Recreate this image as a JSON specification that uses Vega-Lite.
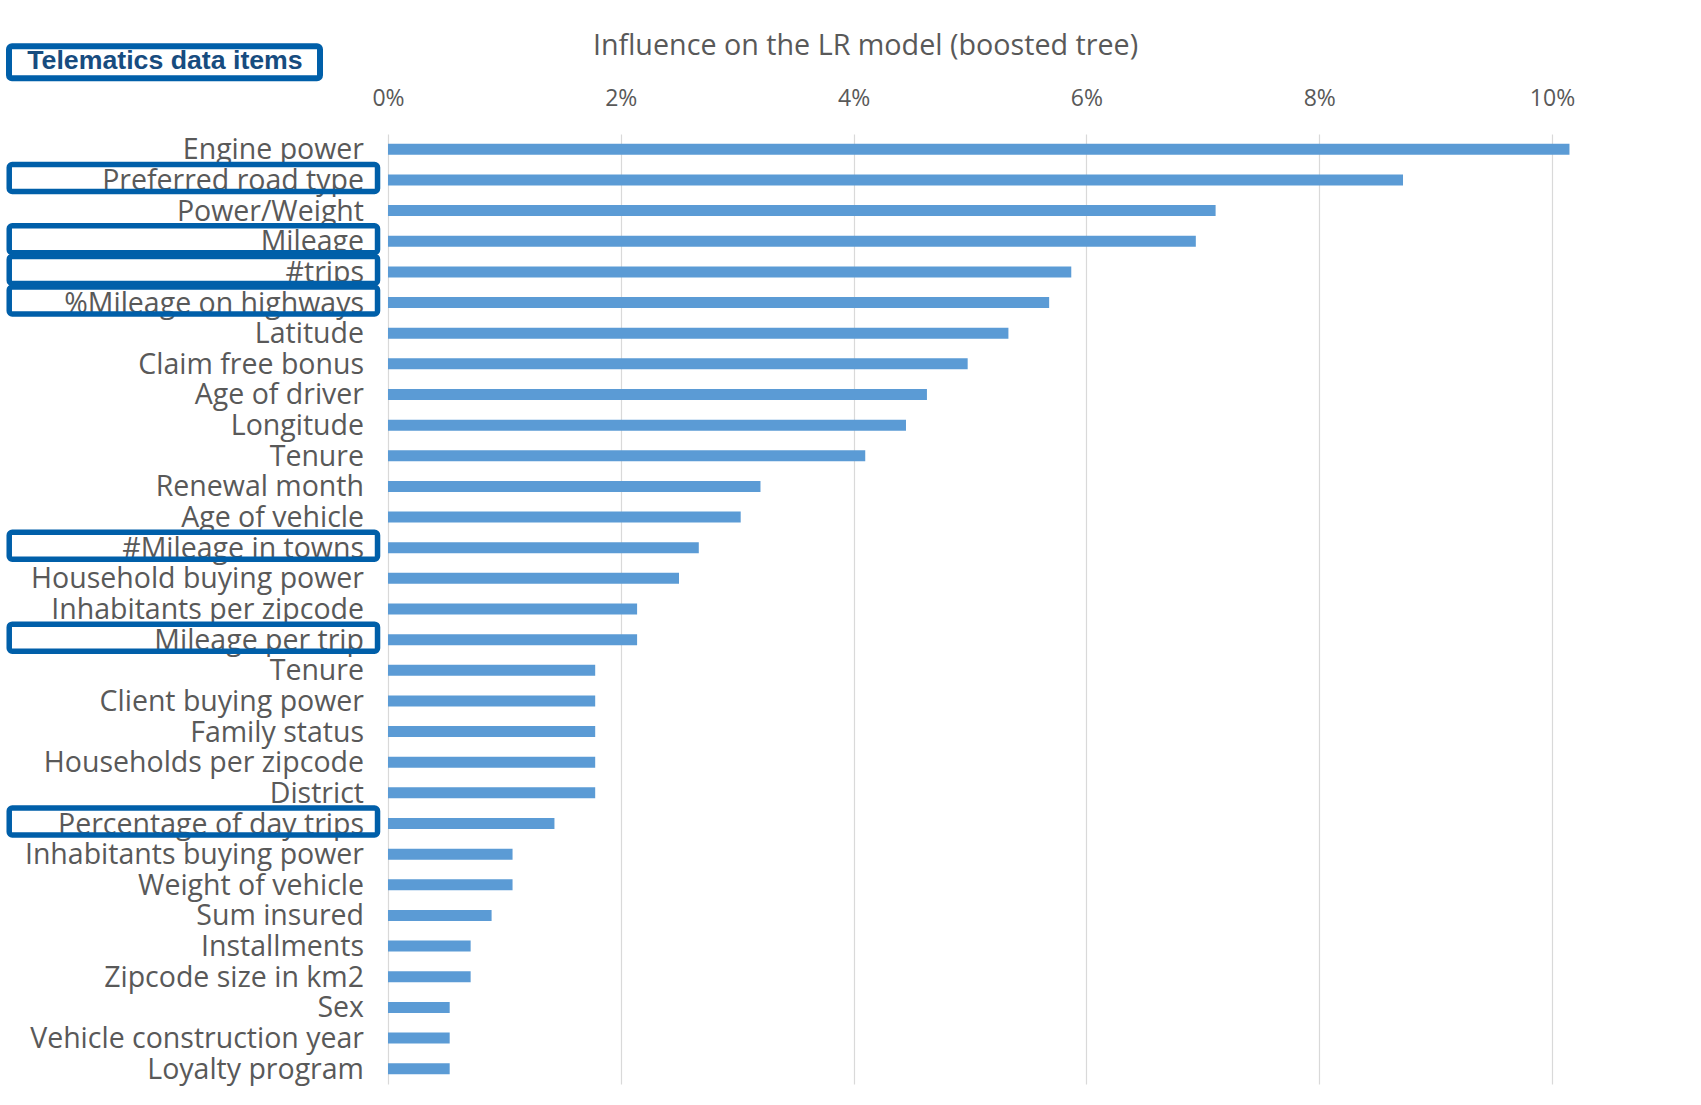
{
  "$schema": "https://vega.github.io/schema/vega-lite/v6.json",
  "width": 1313,
  "height": 950,
  "autosize": {"type": "none"},
  "padding": {"left": 388, "top": 134, "right": 0, "bottom": 21},
  "background": "white",
  "config": {"view": {"stroke": null}, "legend": {"strokeWidth": 6}},
  "data": {"values": [
    {"rank": 1, "feature": "Engine power", "influence": 0.1015, "source": "Other"},
    {"rank": 2, "feature": "Preferred road type", "influence": 0.0872, "source": "Telematics data items"},
    {"rank": 3, "feature": "Power/Weight", "influence": 0.0711, "source": "Other"},
    {"rank": 4, "feature": "Mileage", "influence": 0.0694, "source": "Telematics data items"},
    {"rank": 5, "feature": "#trips", "influence": 0.0587, "source": "Telematics data items"},
    {"rank": 6, "feature": "%Mileage on highways", "influence": 0.0568, "source": "Telematics data items"},
    {"rank": 7, "feature": "Latitude", "influence": 0.0533, "source": "Other"},
    {"rank": 8, "feature": "Claim free bonus", "influence": 0.0498, "source": "Other"},
    {"rank": 9, "feature": "Age of driver", "influence": 0.0463, "source": "Other"},
    {"rank": 10, "feature": "Longitude", "influence": 0.0445, "source": "Other"},
    {"rank": 11, "feature": "Tenure", "influence": 0.0410, "source": "Other"},
    {"rank": 12, "feature": "Renewal month", "influence": 0.0320, "source": "Other"},
    {"rank": 13, "feature": "Age of vehicle", "influence": 0.0303, "source": "Other"},
    {"rank": 14, "feature": "#Mileage in towns", "influence": 0.0267, "source": "Telematics data items"},
    {"rank": 15, "feature": "Household buying power", "influence": 0.0250, "source": "Other"},
    {"rank": 16, "feature": "Inhabitants per zipcode", "influence": 0.0214, "source": "Other"},
    {"rank": 17, "feature": "Mileage per trip", "influence": 0.0214, "source": "Telematics data items"},
    {"rank": 18, "feature": "Tenure", "influence": 0.0178, "source": "Other"},
    {"rank": 19, "feature": "Client buying power", "influence": 0.0178, "source": "Other"},
    {"rank": 20, "feature": "Family status", "influence": 0.0178, "source": "Other"},
    {"rank": 21, "feature": "Households per zipcode", "influence": 0.0178, "source": "Other"},
    {"rank": 22, "feature": "District", "influence": 0.0178, "source": "Other"},
    {"rank": 23, "feature": "Percentage of day trips", "influence": 0.0143, "source": "Telematics data items"},
    {"rank": 24, "feature": "Inhabitants buying power", "influence": 0.0107, "source": "Other"},
    {"rank": 25, "feature": "Weight of vehicle", "influence": 0.0107, "source": "Other"},
    {"rank": 26, "feature": "Sum insured", "influence": 0.0089, "source": "Other"},
    {"rank": 27, "feature": "Installments", "influence": 0.0071, "source": "Other"},
    {"rank": 28, "feature": "Zipcode size in km2", "influence": 0.0071, "source": "Other"},
    {"rank": 29, "feature": "Sex", "influence": 0.0053, "source": "Other"},
    {"rank": 30, "feature": "Vehicle construction year", "influence": 0.0053, "source": "Other"},
    {"rank": 31, "feature": "Loyalty program", "influence": 0.0053, "source": "Other"}
  ]},
  "encoding": {
    "y": {"field": "rank", "type": "ordinal", "axis": null, "scale": {"paddingInner": 0, "paddingOuter": 0}}
  },
  "layer": [
    {
      "mark": {"type": "bar", "color": "#5B9BD5", "height": 11},
      "encoding": {
        "x": {
          "field": "influence", "type": "quantitative",
          "scale": {"domain": [0, 0.1128], "nice": false, "zero": true},
          "axis": {
            "orient": "top", "values": [0, 0.02, 0.04, 0.06, 0.08, 0.1], "format": ".0%",
            "grid": true, "gridColor": "#D9D9D9", "gridWidth": 1.2,
            "ticks": false, "tickSize": 0, "domain": false, "labelFlush": false,
            "labelFont": "Open Sans", "labelFontSize": 23, "labelColor": "#595959",
            "labelPadding": 29, "labelBaseline": "alphabetic",
            "title": "Influence on the LR model (boosted tree)",
            "titleX": 477, "titleY": -80, "titleAlign": "center", "titleBaseline": "alphabetic",
            "titleFont": "Open Sans", "titleFontSize": 28.7, "titleFontWeight": "normal", "titleColor": "#595959"
          }
        }
      }
    },
    {
      "mark": {"type": "text", "align": "right", "baseline": "alphabetic", "dx": -24, "dy": 10, "font": "Open Sans", "fontSize": 28.5, "color": "#595959"},
      "encoding": {
        "x": {"datum": 0, "type": "quantitative"},
        "text": {"field": "feature", "type": "nominal"}
      }
    },
    {
      "transform": [{"filter": "datum.source === 'Telematics data items'"}],
      "mark": {"type": "bar", "filled": false, "strokeWidth": 5.5, "cornerRadius": 3, "height": 27, "yOffset": -2},
      "encoding": {
        "x": {"datum": -0.03254, "type": "quantitative"},
        "x2": {"datum": -0.0009},
        "color": {
          "field": "source", "type": "nominal",
          "scale": {"range": ["#005FA9"]},
          "legend": {
            "title": "Telematics data items", "titleFont": "Liberation Sans", "titleFontWeight": "bold",
            "titleFontSize": 26.7, "titleColor": "#174C7F", "titleAnchor": "middle", "titlePadding": 0, "titleLimit": 600,
            "orient": "none", "legendX": -379, "legendY": -87.7,
            "symbolOpacity": 0, "symbolSize": 1, "symbolStrokeWidth": 0, "symbolOffset": 306,
            "labelExpr": "''", "labelFontSize": 1, "labelOffset": 0,
            "padding": 2, "strokeColor": "#005FA9", "cornerRadius": 3
          }
        }
      }
    }
  ]
}
